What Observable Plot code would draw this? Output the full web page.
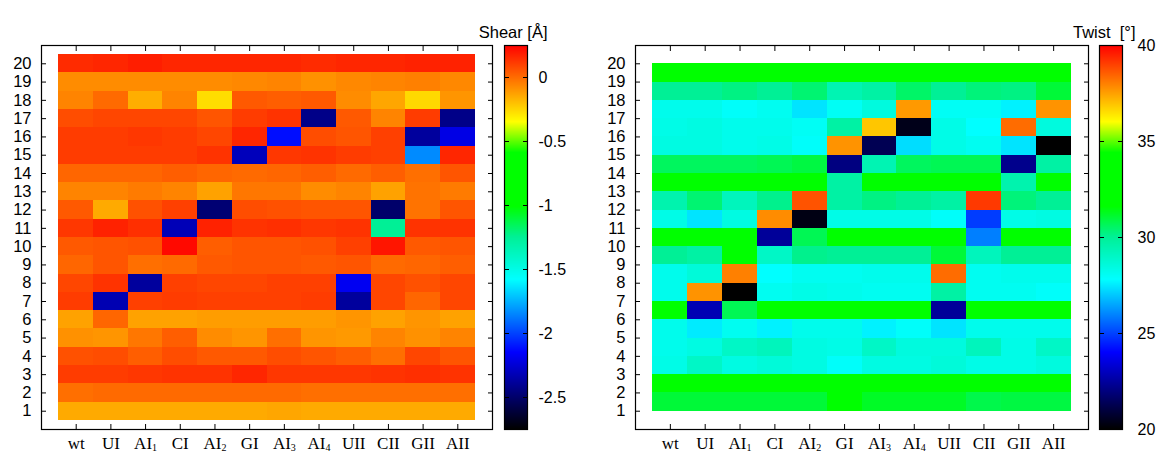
<!DOCTYPE html>
<html><head><meta charset="utf-8">
<script src="https://cdn.jsdelivr.net/npm/d3@7"></script>
<script src="https://cdn.jsdelivr.net/npm/@observablehq/plot@0.6"></script>
<style>
body{margin:0;background:#fff;}
#wrap{position:relative;width:1158px;height:453px;overflow:hidden;background:#fff;}
#wrap svg{position:absolute;top:0;}
</style></head><body><div id="wrap"></div>
<script>
// ---- categories & ticks ----
const columns = ["wt","UI","AI1","CI","AI2","GI","AI3","AI4","UII","CII","GII","AII"];
const shearRows = d3.range(20, 0, -1);       // base pairs 20..1
const twistSteps = d3.range(19, 0, -1);      // steps k..k+1, 19..1
const rowTicks = d3.range(1, 21);
const shearTicks = [0, -0.5, -1, -1.5, -2, -2.5];
const twistTicks = [20, 25, 30, 35, 40];
const shearRange = [-2.75, 0.25];
const twistRange = [20, 40];
// palette (fraction of range -> colour)
const paletteT = [0, 0.2, 0.39, 0.5, 0.58, 0.72, 0.80, 1];
const paletteColors = ["#000000","#0000ff","#00ffff","#00f096","#00ff00","#00ff00","#ffff00","#ff0000"];

// ---- Shear [Å], rows 20 -> 1 ----
const shear = [
  [0.15, 0.16, 0.18, 0.16, 0.16, 0.16, 0.16, 0.15, 0.16, 0.16, 0.17, 0.17],
  [-0.08, -0.08, -0.08, -0.08, -0.08, -0.07, -0.06, -0.09, -0.07, -0.06, -0.05, -0.07],
  [-0.06, 0.0, -0.16, -0.06, -0.27, 0.04, 0.03, 0.04, -0.08, -0.14, -0.26, -0.10],
  [0.07, 0.085, 0.085, 0.085, 0.05, 0.11, 0.13, -2.43, 0.04, -0.06, 0.11, -2.43],
  [0.11, 0.11, 0.12, 0.11, 0.085, 0.16, -2.12, 0.07, 0.05, 0.10, -2.38, -2.21],
  [0.11, 0.11, 0.11, 0.11, 0.13, -2.31, 0.12, 0.13, 0.11, 0.10, -1.84, 0.16],
  [0.01, 0.01, 0.01, 0.03, 0.01, 0.0, 0.01, 0.03, 0.0, 0.03, -0.01, 0.05],
  [-0.06, -0.06, -0.04, -0.06, -0.13, -0.03, -0.03, -0.08, -0.06, -0.13, -0.02, -0.04],
  [0.04, -0.15, 0.06, 0.10, -2.48, 0.07, 0.06, 0.05, 0.05, -2.50, -0.02, 0.05],
  [0.12, 0.17, 0.14, -2.32, 0.17, 0.13, 0.14, 0.12, 0.13, -1.25, 0.13, 0.13],
  [0.04, 0.05, 0.06, 0.23, 0.03, 0.05, 0.05, 0.06, 0.10, 0.20, 0.04, 0.05],
  [0.01, 0.05, -0.01, 0.0, 0.04, 0.05, 0.05, 0.04, 0.05, 0.0, 0.01, 0.03],
  [0.085, 0.13, -2.38, 0.10, 0.085, 0.085, 0.10, 0.10, -2.18, 0.085, 0.06, 0.085],
  [0.11, -2.33, 0.10, 0.11, 0.10, 0.10, 0.10, 0.11, -2.38, 0.085, 0.01, 0.085],
  [-0.13, 0.01, -0.13, -0.13, -0.12, -0.12, -0.12, -0.12, -0.10, -0.13, -0.10, -0.13],
  [-0.09, -0.10, -0.03, 0.03, -0.08, -0.10, -0.01, -0.10, -0.11, -0.06, -0.09, -0.06],
  [0.06, 0.07, 0.03, 0.07, 0.04, 0.04, 0.07, 0.05, 0.03, -0.01, 0.085, 0.05],
  [0.11, 0.11, 0.12, 0.13, 0.13, 0.16, 0.12, 0.12, 0.12, 0.13, 0.14, 0.13],
  [-0.01, 0.0, 0.0, 0.0, 0.0, 0.0, 0.0, -0.01, -0.01, -0.01, -0.01, -0.01],
  [-0.15, -0.15, -0.15, -0.15, -0.15, -0.15, -0.14, -0.15, -0.15, -0.15, -0.15, -0.15]
];

// ---- Twist [°], steps 19 -> 1 ----
const twist = [
  [33, 33, 33, 33, 33, 33, 33, 33, 33, 33, 33, 33],
  [30.0, 30.0, 30.2, 30.0, 30.4, 29.4, 29.7, 30.5, 30.0, 30.3, 30.2, 31.0],
  [28.2, 28.2, 27.9, 28.1, 27.4, 28.0, 28.5, 37.6, 28.0, 28.0, 27.6, 37.7],
  [28.3, 28.4, 28.2, 28.2, 28.0, 29.7, 36.9, 20.4, 28.3, 27.8, 38.3, 28.5],
  [28.4, 28.4, 28.2, 28.3, 27.9, 37.7, 21.3, 27.3, 28.3, 28.1, 27.4, 20.0],
  [30.6, 30.6, 30.6, 30.7, 30.9, 22.0, 29.4, 30.6, 30.7, 30.7, 22.2, 29.7],
  [32.8, 32.5, 32.5, 32.5, 33.0, 29.7, 33.0, 33.0, 32.0, 33.0, 29.5, 33.0],
  [29.5, 30.4, 29.2, 30.1, 38.7, 29.7, 30.2, 30.0, 29.7, 39.1, 30.3, 30.0],
  [28.3, 27.4, 28.4, 37.8, 20.3, 28.3, 28.3, 28.3, 27.9, 24.9, 28.3, 28.4],
  [33, 33, 33, 22.4, 30.7, 33, 33, 33, 33, 25.9, 33, 33],
  [30.0, 29.7, 33.0, 29.0, 30.1, 30.0, 30.0, 30.0, 31.0, 29.2, 30.0, 30.0],
  [28.2, 28.6, 38.0, 27.8, 28.1, 28.1, 28.2, 28.2, 38.3, 28.1, 28.2, 28.2],
  [28.2, 37.7, 20.0, 28.1, 28.3, 28.2, 28.1, 28.1, 29.7, 28.1, 28.1, 27.9],
  [33, 22.8, 30.7, 33, 33, 33, 33, 33, 22.4, 33, 31.8, 33],
  [28.2, 27.5, 28.1, 27.6, 28.2, 28.2, 27.6, 27.9, 27.4, 28.2, 28.2, 28.2],
  [28.2, 28.4, 29.0, 29.2, 28.4, 28.3, 29.0, 28.5, 28.5, 29.2, 28.3, 29.0],
  [28.3, 29.0, 28.4, 28.6, 28.4, 27.9, 28.4, 28.4, 28.6, 28.3, 28.3, 28.5],
  [33, 33, 33, 33, 33, 33, 33, 33, 33, 33, 33, 33],
  [31.0, 31.0, 31.0, 31.0, 31.0, 31.8, 31.2, 31.2, 31.2, 30.8, 30.9, 30.9]
];

const SANS = "'Liberation Sans', Arial, Helvetica, sans-serif";
const SERIF = "'Liberation Serif', 'Times New Roman', serif";
const H = 453, MT = 45, MB = 24;

function colorScale([lo, hi]) {
  return {type: "linear", domain: paletteT.map(t => lo + (hi - lo) * t), range: paletteColors, interpolate: "rgb"};
}

function heatmap(values, rows, lowOff, highOff, range, width) {
  const data = [];
  rows.forEach((r, ri) => values[ri].forEach((v, ci) => data.push({col: ci, row: r, v})));
  const colIdx = d3.range(columns.length);
  const svg = Plot.plot({
    width, height: H, marginLeft: 41, marginRight: 8, marginTop: MT, marginBottom: MB,
    x: {domain: [-1, columns.length]},
    y: {domain: [0, 21]},
    color: colorScale(range),
    style: {fontFamily: SANS, fontSize: "16px", color: "black", background: "none", overflow: "visible"},
    marks: [
      Plot.rect(data, {x1: d => d.col - 0.5, x2: d => d.col + 0.5, y1: d => d.row + lowOff, y2: d => d.row + highOff,
        fill: "v", shapeRendering: "crispEdges"}),
      Plot.axisX(colIdx, {anchor: "bottom", tickSize: -5, tickFormat: () => "", label: null}),
      Plot.axisX(colIdx, {anchor: "top", tickSize: -5, tickFormat: () => "", label: null}),
      Plot.axisX(colIdx, {anchor: "bottom", tickSize: 0, tickPadding: 7, tickFormat: i => columns[i],
        fontFamily: SERIF, fontSize: 17, label: null}),
      Plot.axisY(rowTicks, {anchor: "left", tickSize: -5, tickFormat: () => "", label: null}),
      Plot.axisY(rowTicks, {anchor: "right", tickSize: -5, tickFormat: () => "", label: null}),
      Plot.axisY(rowTicks, {anchor: "left", tickSize: 0, tickPadding: 10, tickFormat: d => String(d), fontSize: 16.5, label: null}),
      Plot.frame({stroke: "black", strokeWidth: 1.2})
    ]
  });
  // subscripts for AI1..AI4
  svg.querySelectorAll("text").forEach(t => {
    const m = /^AI(\d)$/.exec(t.textContent);
    if (m) {
      t.textContent = "AI";
      const ts = document.createElementNS("http://www.w3.org/2000/svg", "tspan");
      ts.setAttribute("font-size", "10");
      ts.setAttribute("dy", "2.5");
      ts.textContent = m[1];
      t.appendChild(ts);
    }
  });
  return svg;
}

function colorbar(range, ticks, title, labelPad, titleDx, width, mLeft, mRight) {
  const [lo, hi] = range;
  const N = 384, step = (hi - lo) / N;
  const slices = d3.range(N).map(i => lo + i * step);
  return Plot.plot({
    width, height: H, marginLeft: mLeft, marginRight: mRight, marginTop: MT, marginBottom: MB,
    y: {domain: [lo, hi]},
    color: colorScale(range),
    style: {fontFamily: SANS, fontSize: "16px", color: "black", background: "none", overflow: "visible"},
    marks: [
      Plot.rect(slices, {y1: d => d, y2: d => Math.min(hi, d + step * 1.5), fill: d => d + step / 2, shapeRendering: "crispEdges"}),
      Plot.axisY(ticks, {anchor: "left", tickSize: -5, tickFormat: () => "", label: null}),
      Plot.axisY(ticks, {anchor: "right", tickSize: -5, tickFormat: () => "", label: null}),
      Plot.axisY(ticks, {anchor: "right", tickSize: 0, tickPadding: labelPad, tickFormat: d => String(d), fontSize: 16, label: null}),
      Plot.frame({stroke: "black", strokeWidth: 1.2}),
      Plot.text([title], {frameAnchor: "top-right", text: d => d, textAnchor: "end", lineAnchor: "bottom", dy: -8, dx: titleDx, fontSize: 16.5})
    ]
  });
}

const wrap = document.getElementById("wrap");
function place(svg, left) { svg.style.left = left + "px"; wrap.appendChild(svg); }

place(heatmap(shear, shearRows, -0.5, 0.5, shearRange, 500), 0);
place(colorbar(shearRange, shearTicks, "Shear [Å]", 11, 20, 100, 40, 37), 464);
place(heatmap(twist, twistSteps, 0, 1, twistRange, 502), 594);
place(colorbar(twistRange, twistTicks, "Twist  [°]", 15, 13, 99, 40, 36), 1059);
</script></body></html>
